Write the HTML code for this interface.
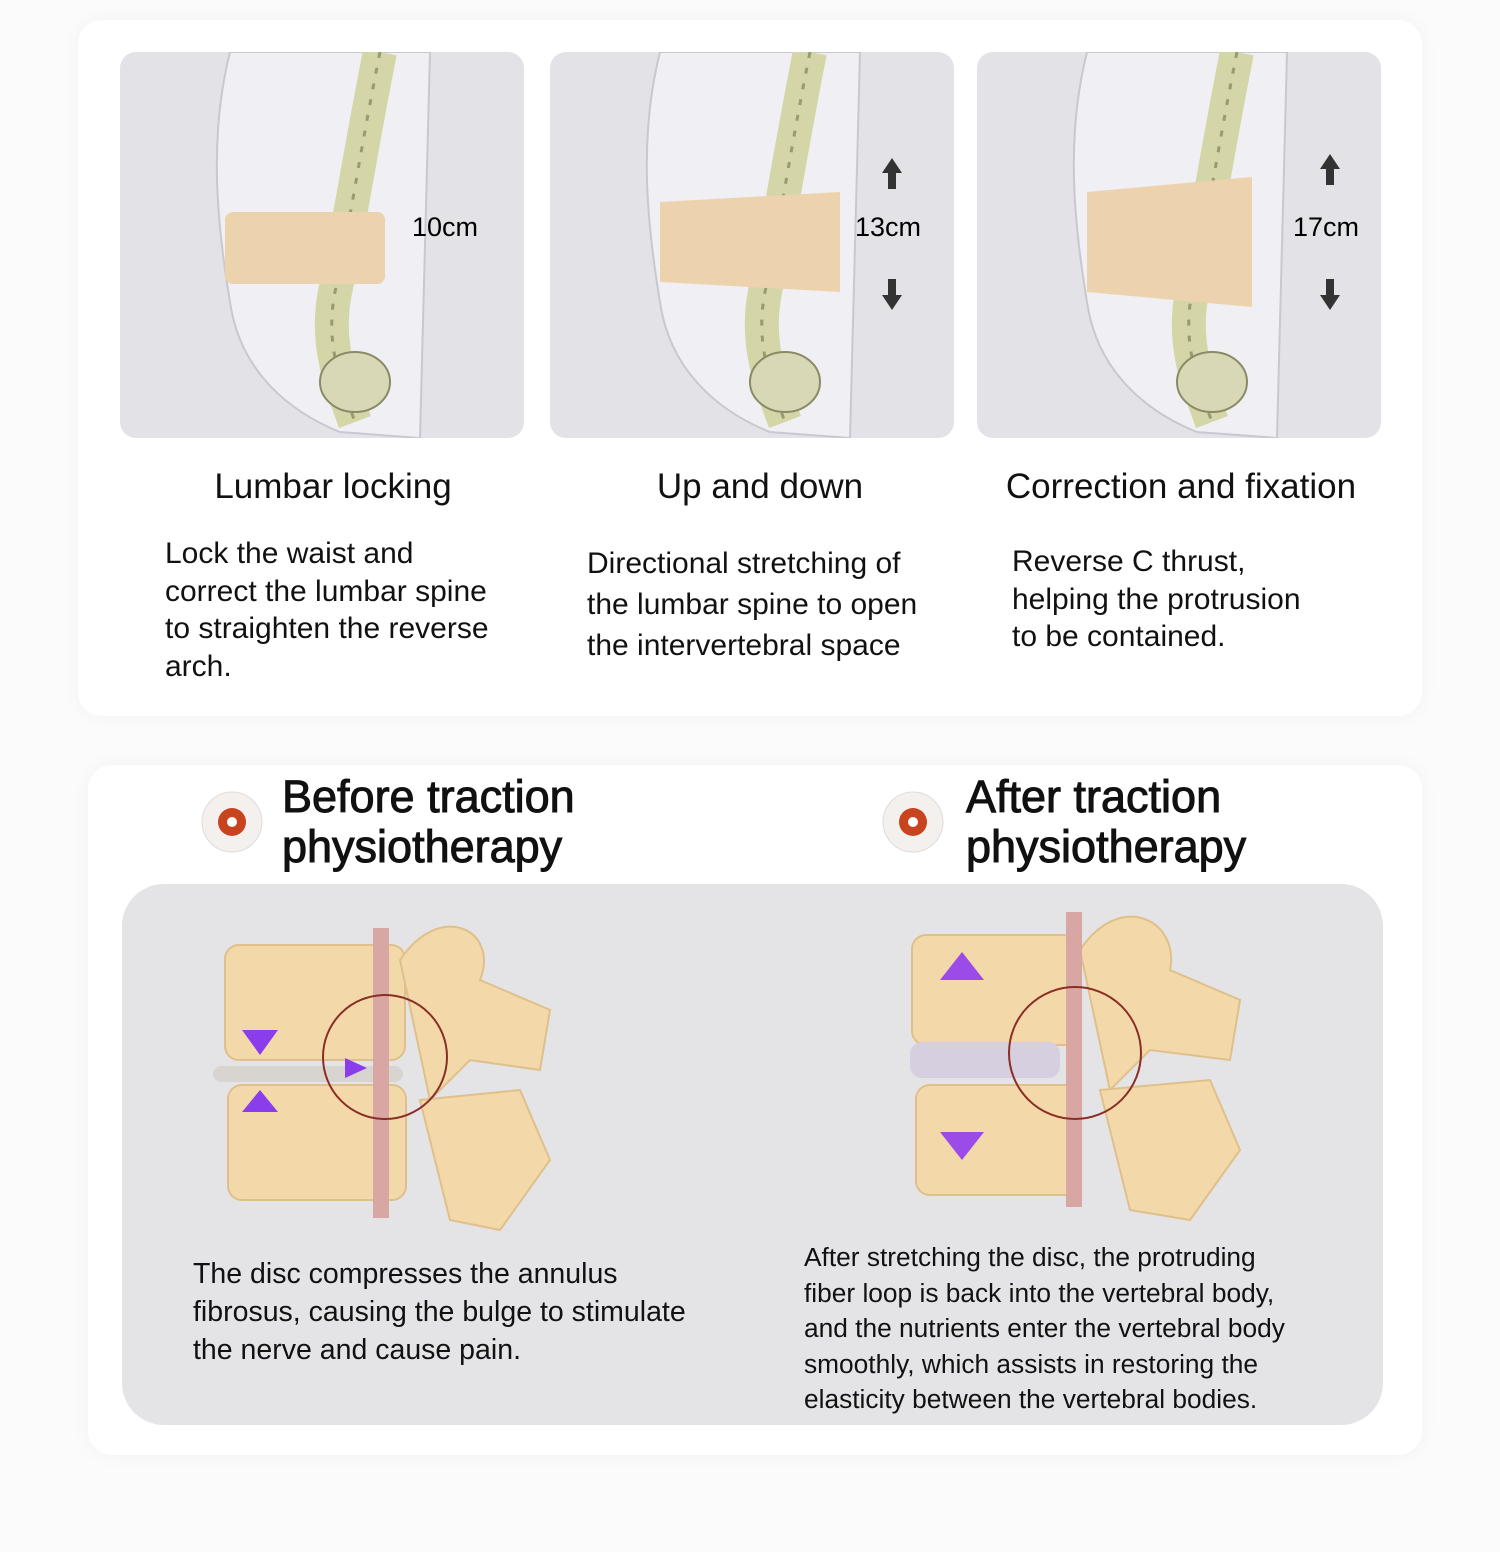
<!DOCTYPE html>
<html><head><meta charset="utf-8"><style>
body{margin:0;width:1500px;height:1552px;background:#fbfbfb;font-family:"Liberation Sans",sans-serif;color:#111;position:relative;overflow:hidden}
.a{position:absolute}
.card{background:#fff;border-radius:24px;box-shadow:0 0 20px rgba(0,0,0,0.04)}
.t{position:absolute;font-size:35px;text-align:center}
.d{position:absolute;font-size:30px;line-height:37.5px}
.h{position:absolute;font-size:45px;line-height:50px;-webkit-text-stroke:1px #111}
.b{position:absolute;font-size:28.5px;line-height:38px}
</style></head><body>
<div class="a card" style="left:78px;top:20px;width:1344px;height:696px"></div>
<div class="a card" style="left:88px;top:765px;width:1334px;height:690px"></div>

<svg class="a" style="left:0;top:0" width="1500" height="1552">
<defs>
<clipPath id="pc"><rect x="0" y="0" width="404" height="386" rx="16"/></clipPath>
<g id="pnl">
 <rect x="0" y="0" width="404" height="386" rx="16" fill="#e3e2e7"/>
 <g clip-path="url(#pc)">
 <path d="M110 0 C90 80 95 160 110 250 C120 320 170 360 220 380 L300 386 L310 0Z" fill="#f0eff3" stroke="#c9c8d0" stroke-width="2"/>
 <path d="M260 0 C240 100 230 170 215 240 C205 290 220 330 235 370" fill="none" stroke="#d4d6a8" stroke-width="34"/>
 <path d="M260 0 C240 100 230 170 215 240 C205 290 220 330 235 370" fill="none" stroke="#999a70" stroke-width="3" stroke-dasharray="6 10"/>
 <ellipse cx="235" cy="330" rx="35" ry="30" fill="#d8d8b6" stroke="#8a8a66" stroke-width="2"/>
 </g>
</g>
</defs>
<g transform="translate(120,52)"><use href="#pnl"/><rect x="105" y="160" width="160" height="72" rx="8" fill="#ecd3ae"/><text x="292" y="184" font-size="27" font-family="Liberation Sans">10cm</text></g>
<g transform="translate(550,52)"><use href="#pnl"/><path d="M110 150 L290 140 L290 240 L110 230Z" fill="#ecd3ae"/><text x="305" y="184" font-size="27" font-family="Liberation Sans">13cm</text>
 <path d="M342 106 l-10 15 h6 v16 h8 v-16 h6z" fill="#333"/><path d="M342 258 l-10 -15 h6 v-16 h8 v16 h6z" fill="#333"/></g>
<g transform="translate(977,52)"><use href="#pnl"/><path d="M110 140 L275 125 L275 255 L110 240Z" fill="#ecd3ae"/><text x="316" y="184" font-size="27" font-family="Liberation Sans">17cm</text>
 <path d="M353 102 l-10 15 h6 v16 h8 v-16 h6z" fill="#333"/><path d="M353 258 l-10 -15 h6 v-16 h8 v16 h6z" fill="#333"/></g>

<rect x="122" y="884" width="1261" height="541" rx="42" fill="#e4e3e6"/>
<circle cx="232" cy="822" r="30" fill="#f4f0ee" stroke="#ddd"/><circle cx="232" cy="822" r="14" fill="#c8441e"/><circle cx="232" cy="822" r="5" fill="#fff"/>
<circle cx="913" cy="822" r="30" fill="#f4f0ee" stroke="#ddd"/><circle cx="913" cy="822" r="14" fill="#c8441e"/><circle cx="913" cy="822" r="5" fill="#fff"/>
<g fill="#f3d9a9" stroke="#e0c08a" stroke-width="2">
 <rect x="225" y="945" width="180" height="115" rx="14"/>
 <rect x="228" y="1085" width="178" height="115" rx="14"/>
 <path d="M400 960 C440 900 500 930 480 980 L550 1010 L540 1070 L470 1060 L430 1100Z"/>
 <path d="M420 1100 L520 1090 L550 1160 L500 1230 L450 1220Z"/>
</g>
<rect x="213" y="1066" width="190" height="16" rx="8" fill="#d8d4d0"/>
<rect x="373" y="928" width="16" height="290" fill="#d9a7a3"/>
<circle cx="385" cy="1057" r="62" fill="none" stroke="#8a2e26" stroke-width="2"/>
<path d="M260 1030 l-18 0 l18 25 l18 -25z M260 1090 l-18 22 h36z M345 1058 l22 10 l-22 10z" fill="#8a3dea"/>
<g fill="#f3d9a9" stroke="#e0c08a" stroke-width="2">
 <rect x="912" y="935" width="165" height="110" rx="14"/>
 <rect x="916" y="1085" width="165" height="110" rx="14"/>
 <path d="M1080 950 C1120 890 1180 920 1170 970 L1240 1000 L1230 1060 L1150 1050 L1110 1090Z"/>
 <path d="M1100 1090 L1210 1080 L1240 1150 L1190 1220 L1130 1210Z"/>
</g>
<rect x="910" y="1042" width="150" height="36" rx="12" fill="#d5cfe0"/>
<rect x="1066" y="912" width="16" height="295" fill="#d9a7a3"/>
<circle cx="1075" cy="1053" r="66" fill="none" stroke="#8a2e26" stroke-width="2"/>
<path d="M962 952 l-22 28 h44z M962 1160 l-22 -28 h44z" fill="#9a4be8"/>
</svg>

<div class="t" style="left:133px;top:467px;width:400px">Lumbar locking</div>
<div class="t" style="left:560px;top:467px;width:400px">Up and down</div>
<div class="t" style="left:931px;top:467px;width:500px">Correction and fixation</div>
<div class="d" style="left:165px;top:535px">Lock the waist and<br>correct the lumbar spine<br>to straighten the reverse<br>arch.</div>
<div class="d" style="left:587px;top:543px;line-height:41px">Directional stretching of<br>the lumbar spine to open<br>the intervertebral space</div>
<div class="d" style="left:1012px;top:543px">Reverse C thrust,<br>helping the protrusion<br>to be contained.</div>
<div class="h" style="left:282px;top:772px">Before traction<br>physiotherapy</div>
<div class="h" style="left:966px;top:772px">After traction<br>physiotherapy</div>
<div class="b" style="left:193px;top:1255px">The disc compresses the annulus<br>fibrosus, causing the bulge to stimulate<br>the nerve and cause pain.</div>
<div class="b" style="left:804px;top:1240px;font-size:26.3px;line-height:35.5px">After stretching the disc, the protruding<br>fiber loop is back into the vertebral body,<br>and the nutrients enter the vertebral body<br>smoothly, which assists in restoring the<br>elasticity between the vertebral bodies.</div>
</body></html>
